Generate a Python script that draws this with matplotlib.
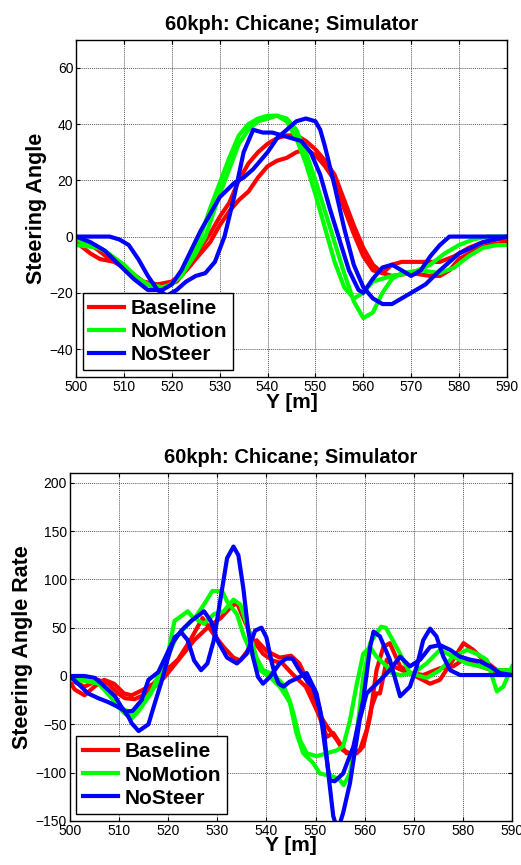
import numpy as np
import matplotlib.pyplot as plt

plt.rcParams['font.family'] = ['Liberation Sans', 'DejaVu Sans']

# ---- top: steering angle ----
ang_base1_x = [500, 503, 505, 508, 511, 514, 517, 520, 523, 526, 528, 530, 532, 534, 536, 538, 540, 542, 544, 546,
               548, 550, 552, 554, 556, 558, 560, 562, 564, 566, 568, 572, 576, 579, 582, 585, 588, 590]
ang_base1_y = [-2, -6, -8, -9, -12, -16, -17, -16, -12, -6, -2, 4, 9, 13, 16, 21, 25, 27, 28, 30,
               31, 29, 25, 20, 10, 1, -7, -12, -13, -10, -9, -9, -9, -7, -4, -2, -1, -1]
ang_base2_x = [500, 504, 507, 510, 513, 515, 518, 521, 524, 526, 528, 530, 532, 534, 536, 538, 540, 542, 544, 546,
               548, 550, 552, 554, 556, 558, 560, 562, 564, 566, 570, 574, 576, 578, 580, 583, 586, 590]
ang_base2_y = [-1, -4, -8, -11, -15, -17, -18, -16, -10, -4, 1, 7, 12, 20, 26, 30, 33, 35, 36, 36,
               34, 31, 27, 22, 13, 4, -4, -10, -13, -14, -13, -14, -14, -12, -8, -5, -3, -2]
ang_nomo1_x = [500, 503, 506, 509, 512, 515, 518, 520, 522, 524, 526, 528, 530, 532, 534, 536, 538, 540, 542, 544,
               546, 548, 550, 552, 554, 556, 558, 560, 562, 564, 566, 570, 574, 577, 580, 583, 586, 590]
ang_nomo1_y = [-1, -3, -5, -9, -14, -17, -18, -17, -13, -7, 0, 10, 19, 28, 36, 40, 42, 43, 43, 41,
               35, 26, 15, 3, -9, -18, -22, -20, -16, -15, -14, -13, -10, -6, -3, -1, 0, 0]
ang_nomo2_x = [500, 505, 510, 513, 516, 519, 522, 525, 527, 530, 532, 534, 536, 538, 540, 542, 544, 546, 548, 550,
               552, 554, 556, 558, 560, 562, 564, 566, 568, 572, 576, 579, 582, 585, 588, 590]
ang_nomo2_y = [-3, -4, -10, -15, -18, -18, -14, -6, 0, 15, 24, 33, 38, 41, 42, 43, 42, 38, 30, 20,
               9, -2, -13, -23, -29, -27, -20, -15, -13, -12, -13, -11, -7, -4, -3, -3]
ang_nost1_x = [500, 504, 507, 509, 511, 513, 515, 517, 519, 521, 523, 525, 527, 529, 531, 533, 535, 537, 539, 541,
               543, 545, 547, 549, 551, 553, 555, 557, 559, 560, 562, 564, 566, 568, 570, 572, 574, 576, 578, 590]
ang_nost1_y = [0, 0, 0, -1, -3, -8, -14, -19, -21, -19, -16, -14, -13, -9, 0, 14, 30, 38, 37, 37,
               36, 35, 34, 30, 22, 10, -1, -12, -19, -20, -15, -11, -10, -12, -14, -12, -7, -3, 0, 0]
ang_nost2_x = [500, 503, 506, 509, 512, 515, 518, 520, 522, 524, 526, 528, 530, 533, 535, 537, 540, 542, 544, 546,
               548, 550, 551, 552, 554, 556, 558, 560, 562, 564, 566, 568, 570, 573, 576, 580, 585, 590]
ang_nost2_y = [0, -2, -5, -10, -15, -19, -19, -17, -12, -5, 2, 8, 14, 19, 21, 24, 30, 35, 38, 41,
               42, 41, 38, 32, 18, 3, -10, -18, -22, -24, -24, -22, -20, -17, -12, -6, -2, 0]

# ---- bottom: steering angle rate ----
rate_base1_x = [500, 501, 503, 505, 507, 509, 511, 512.6, 515, 517, 519, 522, 524.5, 527, 529.3, 531.3, 533.3, 534.7,
                536.7, 538, 540, 542.7, 545, 546.7, 548, 549.5, 551, 552.3, 553.6, 555, 556.3, 558.4, 559.7, 561.1,
                562.4, 563.8, 565.1, 567.2, 569.9, 573.3, 575.3, 578, 580.1, 582.1, 584.1, 586.9, 590]
rate_base1_y = [-6, -14, -20, -11, -4, -8, -18, -20, -14, -8, 3, 17, 37, 60, 43, 30, 19, 16,
                30, 37, 26, 19, 21, 13, -1, -25, -45, -63, -59, -70, -80, -80, -73, -42,
                6, 30, 34, 10, 1, -8, -4, 17, 34, 27, 17, 6, 6]
rate_base2_x = [500, 503, 505.8, 507.8, 509.8, 511.2, 513.2, 515.3, 517.3, 519.3, 522, 525.3, 528, 530.7, 532.5,
                534, 535.3, 537.3, 539.3, 541.3, 543.3, 545.3, 548, 550.2, 552.3, 554.3, 555.6, 557, 559, 560.4,
                561.4, 562.4, 563.1, 564.5, 565.8, 568.5, 571.9, 575.3, 578, 580.1, 583.5, 587.5, 590]
rate_base2_y = [-4, -11, -4, -8, -18, -23, -24, -19, -11, -1, 16, 37, 50, 60, 70,
                76, 60, 37, 23, 16, 13, 2, -11, -35, -52, -66, -77, -80, -77, -56,
                -32, -18, -18, 17, 10, 4, 1, 8, 10, 17, 10, 3, 6]
rate_nomo1_x = [500, 503, 505.8, 507.8, 509.8, 511.2, 512.6, 513.9, 515.3, 517.3, 519.3, 521.3, 524, 525.3, 527.3,
                529, 531, 532, 534, 535.3, 536.7, 538.7, 540.7, 542.7, 544, 544.8, 546.1, 547.5, 549.5, 550.9,
                553.6, 555, 555.7, 557, 558.4, 559.7, 561.1, 563.3, 564.3, 567.2, 569.2, 572.6, 575.3, 578, 580.8,
                582.8, 584.8, 586.9, 588.2, 590]
rate_nomo1_y = [-2, -4, -8, -18, -32, -39, -44, -37, -25, -11, 6, 57, 67, 59, 74,
                88, 88, 77, 64, 43, 26, 6, -1, -11, -21, -28, -59, -80, -90, -101,
                -104, -108, -113, -101, -59, -1, 34, 51, 50, 23, 3, -2, 6, 20, 27,
                23, 17, -16, -11, 10]
rate_nomo2_x = [500, 503, 506, 508, 510.5, 512.6, 514.6, 516.5, 518.7, 522, 525.3, 527.3, 529.3, 531.3, 533.3, 534.7,
                536, 538, 539.3, 541.3, 543.3, 544.7, 545.5, 546.8, 548.2, 550.2, 552.3, 554.3, 555.6, 557, 558.4,
                559.7, 561.1, 562.4, 564.5, 565.5, 567.2, 569.9, 572.6, 575.3, 578, 580.8, 583.5, 586.2, 590]
rate_nomo2_y = [-4, -5, -8, -20, -33, -39, -32, -18, 9, 43, 60, 54, 64, 67, 79, 74,
                54, 19, 6, 2, -8, -25, -39, -66, -80, -83, -80, -77, -73, -46, -8,
                23, 30, 20, 10, 3, 1, 3, 13, 27, 20, 13, 10, 6, 6]
rate_nost1_x = [500, 503, 505.1, 507.1, 509.2, 510.5, 511.9, 512.6, 514, 516, 517.3, 518.7, 520, 521.3, 522.7, 524,
                525.3, 526.7, 528, 529.3, 530.7, 532, 533.3, 534.3, 535.3, 536.3, 537.3, 538.3, 539.3, 540.7, 542.7,
                544, 545.3, 546.7, 548, 549.5, 550.9, 551.9, 552.9, 553.9, 555.6, 557.7, 559.7, 561.1, 561.8, 563.1,
                565.1, 567.2, 569.2, 570.6, 571.9, 573.3, 574.6, 576, 577.4, 579.4, 590]
rate_nost1_y = [0, 0, -2, -11, -21, -32, -42, -49, -57, -50, -28, -5, 19, 40, 45, 37,
                16, 6, 13, 37, 81, 122, 134, 125, 91, 47, 19, -1, -8, -1, 13,
                18, 18, 6, -3, -12, -35, -73, -108, -109, -101, -73, -25, 30, 46, 41,
                17, -21, -11, 10, 37, 49, 41, 20, 6, 1, 1]
rate_nost2_x = [500, 501.7, 503.7, 505.8, 507.8, 509.8, 511.5, 512.8, 514.6, 516, 518, 520.7, 522.7, 524.7, 527.3,
                528.7, 530, 532, 534, 536, 537.7, 539, 540, 541, 541.7, 542.5, 543.5, 544.7, 546, 548.2, 550.2,
                551.6, 552.6, 553.6, 554.5, 555.6, 557, 559, 560.4, 561.8, 563.8, 565.1, 567.2, 569.2, 571.3, 573.3,
                575.3, 577.4, 579.4, 581.4, 583.5, 585.5, 587.5, 590]
rate_nost2_y = [0, -8, -18, -23, -27, -32, -37, -36, -25, -4, 4, 33, 47, 57, 67,
                57, 37, 19, 13, 23, 47, 50, 40, 16, 2, -8, -11, -6, -3, 3, -18,
                -52, -101, -145, -160, -142, -111, -45, -18, -11, -1, 6, 20, 10, 17, 30,
                32, 27, 20, 17, 15, 10, 3, 1]

labels = ['Baseline', 'NoMotion', 'NoSteer']
colors = ['#ff0000', '#00ff00', '#0000ff']


def style_axes(ax, ylim, yticks, ylabel):
    ax.set_xlim(500, 590)
    ax.set_ylim(*ylim)
    ax.set_xticks(np.arange(500, 591, 10))
    ax.set_yticks(yticks)
    ax.grid(True, color='0.35', linestyle=(0, (1, 1)), linewidth=0.7)
    ax.tick_params(direction='in', top=True, right=True, length=3, labelsize=10, pad=2)
    ax.set_title('60kph: Chicane; Simulator', fontsize=14.5, fontweight='bold', pad=7)
    ax.set_xlabel('Y [m]', fontsize=15, fontweight='bold', labelpad=-1)
    ax.set_ylabel(ylabel, fontsize=15.5, fontweight='bold', labelpad=2)
    for s in ax.spines.values():
        s.set_linewidth(1.0)
    leg = ax.legend(loc='lower left', bbox_to_anchor=(0.015, 0.02),
                    prop={'weight': 'bold', 'size': 15}, fancybox=False, framealpha=1,
                    edgecolor='black', handlelength=1.7, handletextpad=0.3,
                    borderpad=0.3, labelspacing=0.2, borderaxespad=0)
    leg.get_frame().set_linewidth(1.0)


fig = plt.figure(figsize=(5.21, 8.65), dpi=100)

ax1 = fig.add_axes([0.146, 0.564, 0.827, 0.39])
top_series = [(ang_base1_x, ang_base1_y, ang_base2_x, ang_base2_y),
              (ang_nomo1_x, ang_nomo1_y, ang_nomo2_x, ang_nomo2_y),
              (ang_nost1_x, ang_nost1_y, ang_nost2_x, ang_nost2_y)]
for (xa, ya, xb, yb), c, lab in zip(top_series, colors, labels):
    ax1.plot(xa, ya, color=c, lw=3, label=lab, solid_joinstyle='round')
    ax1.plot(xb, yb, color=c, lw=3, solid_joinstyle='round')
style_axes(ax1, (-50, 70), np.arange(-40, 61, 20), 'Steering Angle')

ax2 = fig.add_axes([0.134, 0.051, 0.849, 0.402])
bot_series = [(rate_base1_x, rate_base1_y, rate_base2_x, rate_base2_y),
              (rate_nomo1_x, rate_nomo1_y, rate_nomo2_x, rate_nomo2_y),
              (rate_nost1_x, rate_nost1_y, rate_nost2_x, rate_nost2_y)]
for (xa, ya, xb, yb), c, lab in zip(bot_series, colors, labels):
    ax2.plot(xa, ya, color=c, lw=3, label=lab, solid_joinstyle='round')
    ax2.plot(xb, yb, color=c, lw=3, solid_joinstyle='round')
style_axes(ax2, (-150, 210), np.arange(-150, 201, 50), 'Steering Angle Rate')

fig.savefig('out.png', dpi=100)
